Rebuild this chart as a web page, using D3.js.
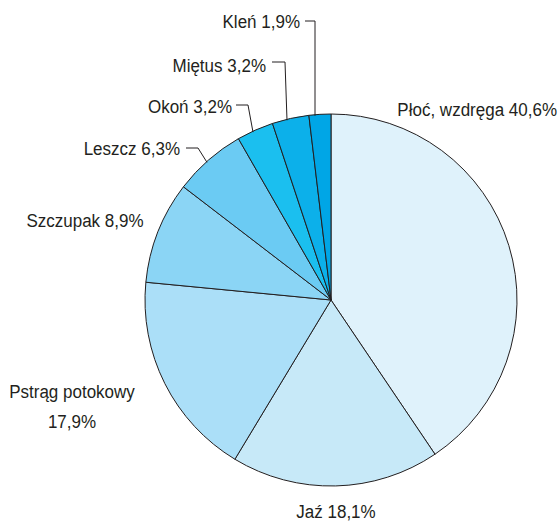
<!DOCTYPE html>
<html><head><meta charset="utf-8">
<script src="https://cdn.jsdelivr.net/npm/d3@7"></script>
<style>
html,body{margin:0;padding:0;background:#fff;}
svg{display:block;}
text{font-family:"Liberation Sans",Arial,sans-serif;font-size:19px;fill:#231f20;}
</style></head>
<body><svg id="c" width="560" height="521"></svg>
<script>
const categories = ["Płoć, wzdręga","Jaź","Pstrąg potokowy","Szczupak","Leszcz","Okoń","Miętus","Kleń"];
const values = [40.6,18.1,17.9,8.9,6.3,3.2,3.2,1.9];
const valueLabels = ["40,6%","18,1%","17,9%","8,9%","6,3%","3,2%","3,2%","1,9%"];
const colors = ["#dff2fb","#c7e9f8","#abdff8","#8bd5f5","#6bcbf3","#1bbfef","#0cb0ea","#00a6e6"];

const cx = 331, cy = 300, R = 186, SX = 0.895;
const svg = d3.select("#c");
const g = svg.append("g").attr("transform",`translate(${cx},${cy})`);
const data = categories.map((c,i)=>({name:c,value:values[i],label:valueLabels[i],color:colors[i]}));
const pie = d3.pie().sort(null).value(d=>d.value);
const arcs = pie(data);
const arc = d3.arc().innerRadius(0).outerRadius(R);

g.selectAll("path").data(arcs).enter().append("path")
  .attr("d",arc).attr("fill",d=>d.data.color)
  .attr("stroke","#231f20").attr("stroke-width",1).attr("stroke-linejoin","round");

const layout = [
  {x:557,y:116,a:"end"},
  {x:336,y:518,a:"middle"},
  {x:72,y:398,a:"middle",two:true,y2:428},
  {x:85,y:227,a:"middle"},
  {x:180,y:155,a:"end",lead:[186,198,148,207]},
  {x:232,y:113,a:"end",lead:[236,248,105,253]},
  {x:266,y:72,a:"end",lead:[272,285,62,287]},
  {x:300,y:28,a:"end",lead:[305,315,21,315]}
];

function label(x,y,a,t){
  svg.append("text").attr("transform",`translate(${x},${y}) scale(${SX},1)`)
    .attr("text-anchor",a).text(t);
}

arcs.forEach((d,i)=>{
  const L = layout[i];
  if(L.two){
    label(L.x,L.y,L.a,d.data.name);
    label(L.x,L.y2,L.a,d.data.label);
  } else {
    label(L.x,L.y,L.a,d.data.name+" "+d.data.label);
  }
  if(L.lead){
    const px = L.lead[3];
    const py = cy - Math.sqrt(R*R-(px-cx)*(px-cx)) + 1;
    svg.append("path").attr("fill","none").attr("stroke","#231f20").attr("stroke-width",1)
      .attr("d",`M${L.lead[0]},${L.lead[2]}H${L.lead[1]}L${px},${py}`);
  }
});
</script></body></html>
